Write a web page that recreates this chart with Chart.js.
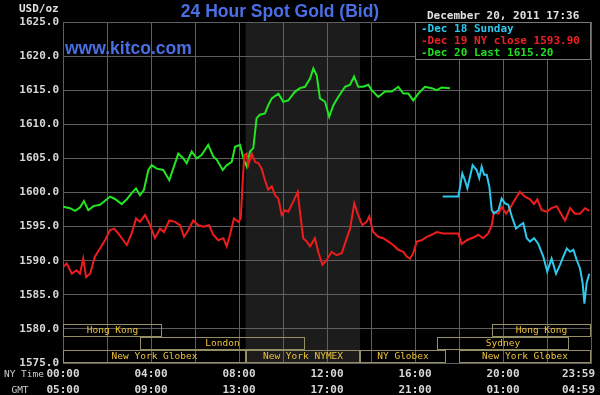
<!DOCTYPE html>
<html>
<head>
<meta charset="utf-8">
<script src="https://cdn.jsdelivr.net/npm/chart.js@4.4.0/dist/chart.umd.min.js"></script>
<style>
  html, body { margin: 0; padding: 0; background: #000; }
  canvas { display: block; }
</style>
</head>
<body>
<canvas id="goldChart" width="600" height="395"></canvas>
<script>
// x axis, hours of the NY day
var tickHours = [0, 4, 8, 12, 16, 20, 24];
var nyTimeLabels = ['00:00', '04:00', '08:00', '12:00', '16:00', '20:00', '23:59'];
var gmtLabels = ['05:00', '09:00', '13:00', '17:00', '21:00', '01:00', '04:59'];

// Dec 20 (today)
var dec20Hours = [0.01, 0.32, 0.55, 0.77, 0.95, 1.15, 1.38, 1.68, 1.91, 2.14, 2.36, 2.67, 2.90, 3.12, 3.32, 3.50, 3.68, 3.88, 4.03, 4.26,
  4.56, 4.83, 5.01, 5.24, 5.47, 5.62, 5.85, 6.08, 6.30, 6.60, 6.83, 6.99, 7.26, 7.44, 7.67, 7.82, 8.05, 8.20, 8.35, 8.50,
  8.65, 8.80, 8.95, 9.18, 9.33, 9.49, 9.79, 10.01, 10.24, 10.55, 10.77, 11.00, 11.23, 11.38, 11.53, 11.68, 11.91, 12.10, 12.29, 12.51,
  12.82, 13.05, 13.23, 13.42, 13.65, 13.88, 14.03, 14.33, 14.64, 14.94, 15.24, 15.47, 15.70, 15.92, 16.15, 16.45, 16.76, 16.99, 17.21, 17.59];
var dec20Prices = [1597.9, 1597.7, 1597.3, 1597.8, 1598.75, 1597.4, 1598.0, 1598.2, 1598.8, 1599.4, 1599.05, 1598.3, 1599.0, 1599.9, 1600.6, 1599.6, 1600.4, 1603.3, 1604.0, 1603.5,
  1603.3, 1601.8, 1603.5, 1605.7, 1605.0, 1604.3, 1606.0, 1605.0, 1605.5, 1607.0, 1605.3, 1604.8, 1603.3, 1604.0, 1604.5, 1606.7, 1607.0, 1605.0, 1603.8, 1606.0,
  1606.5, 1610.9, 1611.4, 1611.6, 1612.8, 1613.8, 1614.5, 1613.3, 1613.5, 1614.8, 1615.3, 1615.5, 1616.7, 1618.2, 1617.2, 1613.8, 1613.3, 1611.1, 1612.8, 1614.0,
  1615.5, 1615.8, 1617.0, 1615.5, 1615.5, 1615.8, 1615.0, 1614.0, 1614.8, 1614.8, 1615.5, 1614.5, 1614.5, 1613.5, 1614.5, 1615.5, 1615.3, 1615.0, 1615.4, 1615.3];

// Dec 19
var dec19Hours = [0.01, 0.17, 0.40, 0.62, 0.77, 0.92, 1.05, 1.23, 1.45, 1.68, 1.91, 2.14, 2.32, 2.51, 2.74, 2.90, 3.12, 3.32, 3.50, 3.73,
  3.92, 4.18, 4.41, 4.59, 4.83, 5.09, 5.32, 5.50, 5.70, 5.92, 6.15, 6.38, 6.64, 6.83, 7.06, 7.29, 7.44, 7.59, 7.77, 7.97,
  8.08, 8.15, 8.24, 8.35, 8.42, 8.58, 8.73, 8.88, 9.03, 9.18, 9.33, 9.49, 9.64, 9.79, 9.94, 10.09, 10.24, 10.47, 10.67, 10.77,
  10.92, 11.08, 11.23, 11.45, 11.60, 11.79, 11.99, 12.21, 12.44, 12.67, 12.90, 13.05, 13.24, 13.42, 13.60, 13.80, 13.92, 14.10, 14.33, 14.56,
  14.79, 15.01, 15.24, 15.47, 15.62, 15.77, 15.92, 16.08, 16.30, 16.53, 16.76, 16.99, 17.29, 17.97, 18.12, 18.35, 18.65, 18.88, 19.10, 19.33,
  19.49, 19.59, 19.79, 19.94, 20.14, 20.32, 20.55, 20.77, 21.00, 21.23, 21.41, 21.56, 21.76, 21.99, 22.21, 22.44, 22.67, 22.82, 23.05, 23.27,
  23.50, 23.73, 23.92];
var dec19Prices = [1589.1, 1589.6, 1588.1, 1588.6, 1588.1, 1590.3, 1587.6, 1588.1, 1590.6, 1591.8, 1593.0, 1594.5, 1594.7, 1594.0, 1593.0, 1592.3, 1594.0, 1596.2, 1595.7, 1596.7,
  1595.5, 1593.3, 1594.7, 1594.2, 1595.9, 1595.7, 1595.2, 1593.5, 1594.5, 1595.9, 1595.2, 1595.0, 1595.2, 1593.8, 1593.0, 1593.3, 1592.1, 1593.8, 1596.2, 1595.7,
  1596.2, 1600.6, 1605.5, 1605.7, 1604.0, 1605.7, 1604.5, 1604.3, 1603.5, 1601.8, 1600.4, 1600.9, 1599.6, 1599.1, 1596.7, 1597.4, 1597.2, 1598.7, 1600.1, 1597.2,
  1593.3, 1592.8, 1592.1, 1593.3, 1591.3, 1589.4, 1590.1, 1591.3, 1590.8, 1591.1, 1593.3, 1594.7, 1598.4, 1596.7, 1595.2, 1595.7, 1596.5, 1594.2, 1593.5, 1593.3,
  1592.8, 1592.3, 1591.6, 1591.3, 1590.6, 1590.3, 1591.1, 1592.8, 1593.0, 1593.5, 1593.8, 1594.2, 1594.0, 1594.0, 1592.45, 1593.0, 1593.4, 1593.8, 1593.3, 1594.0,
  1595.2, 1597.2, 1596.9, 1597.9, 1596.9, 1597.7, 1599.0, 1600.1, 1599.4, 1599.0, 1598.3, 1599.0, 1597.4, 1597.2, 1597.7, 1598.0, 1596.7, 1595.9, 1597.7, 1596.9,
  1596.9, 1597.7, 1597.3];

// Dec 18 (Sunday evening)
var dec18Hours = [17.26, 17.97, 18.05, 18.15, 18.27, 18.38, 18.50, 18.62, 18.80, 18.92, 19.03, 19.14, 19.26, 19.38, 19.49, 19.59, 19.79, 19.94, 20.09, 20.24,
  20.40, 20.59, 20.77, 20.92, 21.08, 21.23, 21.41, 21.60, 21.83, 22.01, 22.21, 22.41, 22.59, 22.74, 22.90, 23.05, 23.20, 23.35, 23.50, 23.62,
  23.70, 23.80, 23.92];
var dec18Prices = [1599.4, 1599.4, 1600.85, 1602.8, 1601.8, 1600.6, 1602.3, 1604.0, 1603.3, 1602.1, 1603.8, 1602.6, 1602.6, 1600.85, 1597.4, 1596.9, 1597.4, 1599.1, 1598.4, 1598.2,
  1596.5, 1594.7, 1595.2, 1595.5, 1593.3, 1592.8, 1593.3, 1592.5, 1590.6, 1588.4, 1590.3, 1588.1, 1589.4, 1590.6, 1591.8, 1591.3, 1591.6, 1590.1, 1588.9, 1586.7,
  1583.7, 1586.7, 1588.1];

// trading sessions (row 0 = top)
var sessionNames = ['Hong Kong', 'London', 'New York Globex', 'New York NYMEX', 'NY Globex', 'Sydney', 'Hong Kong', 'New York Globex'];
var sessionStart = [0, 3.5, 0, 8.3, 13.5, 17, 19.5, 18];
var sessionEnd = [4.5, 11, 8.3, 13.5, 17.4, 23, 24, 24];
var sessionRow = [0, 1, 2, 2, 2, 1, 0, 2];
var pitHours = [8.3, 13.5];

function toPoints(hours, prices) {
  var pts = [];
  for (var i = 0; i < hours.length; i++) {
    pts.push({ x: hours[i], y: prices[i] });
  }
  return pts;
}

var monoBold = 'bold 11px "DejaVu Sans Mono"';
var monoSmall = '9.5px "DejaVu Sans Mono"';

var kitcoPlugin = {
  id: 'kitco',
  beforeDraw: function(chart) {
    var ctx = chart.ctx, area = chart.chartArea, xs = chart.scales.x;
    ctx.save();
    ctx.fillStyle = '#000';
    ctx.fillRect(0, 0, chart.width, chart.height);
    // pit session shading
    var x0 = xs.getPixelForValue(pitHours[0]), x1 = xs.getPixelForValue(pitHours[1]);
    ctx.fillStyle = '#1c1c1c';
    ctx.fillRect(x0, area.top, x1 - x0, area.bottom - area.top);
    ctx.restore();
  },
  afterDatasetsDraw: function(chart) {
    var ctx = chart.ctx, area = chart.chartArea, xs = chart.scales.x;
    ctx.save();
    ctx.font = monoSmall;
    ctx.textAlign = 'center';
    ctx.textBaseline = 'middle';
    for (var i = 0; i < sessionNames.length; i++) {
      var left = Math.round(xs.getPixelForValue(sessionStart[i]));
      var right = Math.round(xs.getPixelForValue(sessionEnd[i]));
      var top = Math.round(area.bottom) - 39 + sessionRow[i] * 13;
      ctx.strokeStyle = '#958f66';
      ctx.lineWidth = 1;
      ctx.strokeRect(left + 0.5, top + 0.5, right - left - 1, 12);
      ctx.fillStyle = '#ecc23a';
      ctx.fillText(sessionNames[i], (left + right) / 2, top + 7);
    }
    ctx.restore();
  },
  afterDraw: function(chart) {
    var ctx = chart.ctx, xs = chart.scales.x;
    ctx.save();
    // title and site
    ctx.fillStyle = '#4a6fe4';
    ctx.font = 'bold 17.5px "Liberation Sans"';
    ctx.textAlign = 'center';
    ctx.textBaseline = 'alphabetic';
    ctx.fillText('24 Hour Spot Gold (Bid)', 280, 17);
    ctx.textAlign = 'left';
    ctx.fillText('www.kitco.com', 65, 54);

    ctx.fillStyle = '#e0e0e0';
    ctx.font = monoBold;
    ctx.fillText('USD/oz', 19, 12);
    ctx.fillText('December 20, 2011 17:36', 427, 19);

    // legend
    ctx.fillStyle = '#000';
    ctx.fillRect(415, 22, 175, 37);
    ctx.strokeStyle = '#7a7a7a';
    ctx.lineWidth = 1;
    ctx.strokeRect(415.5, 22.5, 175, 37);
    var legendText = ['-Dec 18 Sunday', '-Dec 19 NY close 1593.90', '-Dec 20 Last 1615.20'];
    var legendColor = ['#2ec8ec', '#ee2020', '#22dd22'];
    for (var i = 0; i < legendText.length; i++) {
      ctx.fillStyle = legendColor[i];
      ctx.fillText(legendText[i], 421, 32 + i * 12);
    }

    // time axis, two rows
    ctx.fillStyle = '#d8d8d8';
    ctx.textAlign = 'center';
    for (var j = 0; j < tickHours.length; j++) {
      var px = xs.getPixelForValue(tickHours[j]);
      var w = ctx.measureText(nyTimeLabels[j]).width;
      px = Math.min(px, chart.width - 5 - w / 2);
      ctx.fillText(nyTimeLabels[j], px, 377);
      ctx.fillText(gmtLabels[j], px, 393);
    }
    ctx.font = monoSmall;
    ctx.fillStyle = '#cfcfcf';
    ctx.textAlign = 'right';
    ctx.fillText('NY Time', 44, 377);
    ctx.textAlign = 'center';
    ctx.fillText('GMT', 20, 393);
    ctx.restore();
  }
};

var ctx = document.getElementById('goldChart');
new Chart(ctx, {
  type: 'line',
  data: {
    datasets: [
      { label: 'Dec 18 Sunday', data: toPoints(dec18Hours, dec18Prices), borderColor: '#2ec8ec' },
      { label: 'Dec 19 NY close 1593.90', data: toPoints(dec19Hours, dec19Prices), borderColor: '#ee1c1c' },
      { label: 'Dec 20 Last 1615.20', data: toPoints(dec20Hours, dec20Prices), borderColor: '#22e622' }
    ]
  },
  options: {
    responsive: false,
    animation: false,
    layout: { padding: { top: 22, right: 9, left: 0, bottom: 0 } },
    elements: {
      line: { borderWidth: 2, tension: 0 },
      point: { radius: 0 }
    },
    plugins: {
      legend: { display: false },
      title: { display: false },
      tooltip: { enabled: false }
    },
    scales: {
      x: {
        type: 'linear',
        min: 0,
        max: 24,
        ticks: { display: false, stepSize: 2 },
        grid: { color: '#5f5f5f', drawTicks: false },
        border: { color: '#5f5f5f' },
        afterFit: function(scale) { scale.height = 32; }
      },
      y: {
        min: 1575,
        max: 1625,
        ticks: {
          stepSize: 5,
          padding: 4,
          color: '#d8d8d8',
          font: { family: 'DejaVu Sans Mono', size: 11, weight: 'bold' },
          callback: function(v) { return v.toFixed(1); }
        },
        grid: { color: '#5f5f5f', drawTicks: false },
        border: { color: '#5f5f5f' },
        afterFit: function(scale) { scale.width = 63; }
      }
    }
  },
  plugins: [kitcoPlugin]
});
</script>
</body>
</html>
